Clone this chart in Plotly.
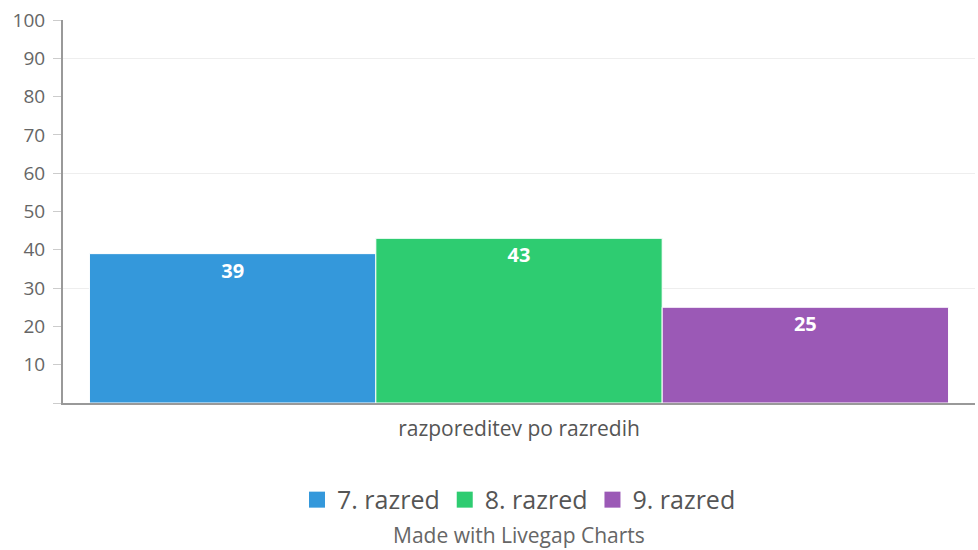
import plotly.graph_objects as go

category = ["razporeditev po razredih"]
series_names = ["7. razred", "8. razred", "9. razred"]
series_values = [39, 43, 25]
colors = ["#3498db", "#2ecc71", "#9b59b6"]
y_ticks = list(range(0, 101, 10))
y_tick_text = [""] + [str(v) for v in y_ticks[1:]]
grid_vals = [30, 60, 90]

fig = go.Figure()
for name, val, col in zip(series_names, series_values, colors):
    fig.add_trace(go.Bar(
        x=category, y=[val], name=name, showlegend=False,
        marker=dict(color=col, line=dict(color="white", width=1)),
        text=[str(val)], textposition="inside", insidetextanchor="end",
        textfont=dict(family="Open Sans", size=20, color="white", weight="bold"),
    ))

# legend entries with larger square swatches
for name, col in zip(series_names, colors):
    fig.add_trace(go.Scatter(
        x=category, y=[None], name=name, mode="markers",
        marker=dict(symbol="square", size=26, color=col),
        hoverinfo="skip",
    ))

# dummy trace for grid axis
fig.add_trace(go.Scatter(x=category, y=[None], yaxis="y2", showlegend=False,
                         hoverinfo="skip", mode="markers"))

fig.update_layout(
    width=978, height=550,
    margin=dict(l=63, r=3, t=20, b=147),
    paper_bgcolor="white", plot_bgcolor="white",
    barmode="group", bargap=0.058, bargroupgap=0,
    font=dict(family="Open Sans", color="#666"),
    xaxis=dict(showline=True, linecolor="#999", linewidth=2, automargin=False,
               ticks="", tickfont=dict(size=21, color="#555"),
               ticklabelstandoff=6, showgrid=False),
    yaxis=dict(range=[0, 100], tickvals=y_ticks, ticktext=y_tick_text,
               ticks="outside", ticklen=8, automargin=False,
               tickcolor="#ccc", showline=True, linecolor="#999", linewidth=2,
               showgrid=False, zeroline=False, ticklabelstandoff=4,
               tickfont=dict(size=19, color="#666")),
    yaxis2=dict(range=[0, 100], overlaying="y", tickvals=grid_vals,
                showgrid=True, gridcolor="#eeeeee", gridwidth=1, automargin=False,
                showticklabels=False, showline=False, zeroline=False, ticks=""),
    legend=dict(orientation="h", x=0.5, xanchor="center", y=-0.253,
                yanchor="middle", itemsizing="trace",
                font=dict(size=25, color="#555")),
    annotations=[dict(text="Made with Livegap Charts", xref="paper", yref="paper",
                      x=0.5, y=-0.345, yanchor="middle", showarrow=False,
                      font=dict(size=21, color="#666"))],
)

fig.write_html("out.html", config={"displayModeBar": False},
               post_script="document.body.style.margin='0';")
